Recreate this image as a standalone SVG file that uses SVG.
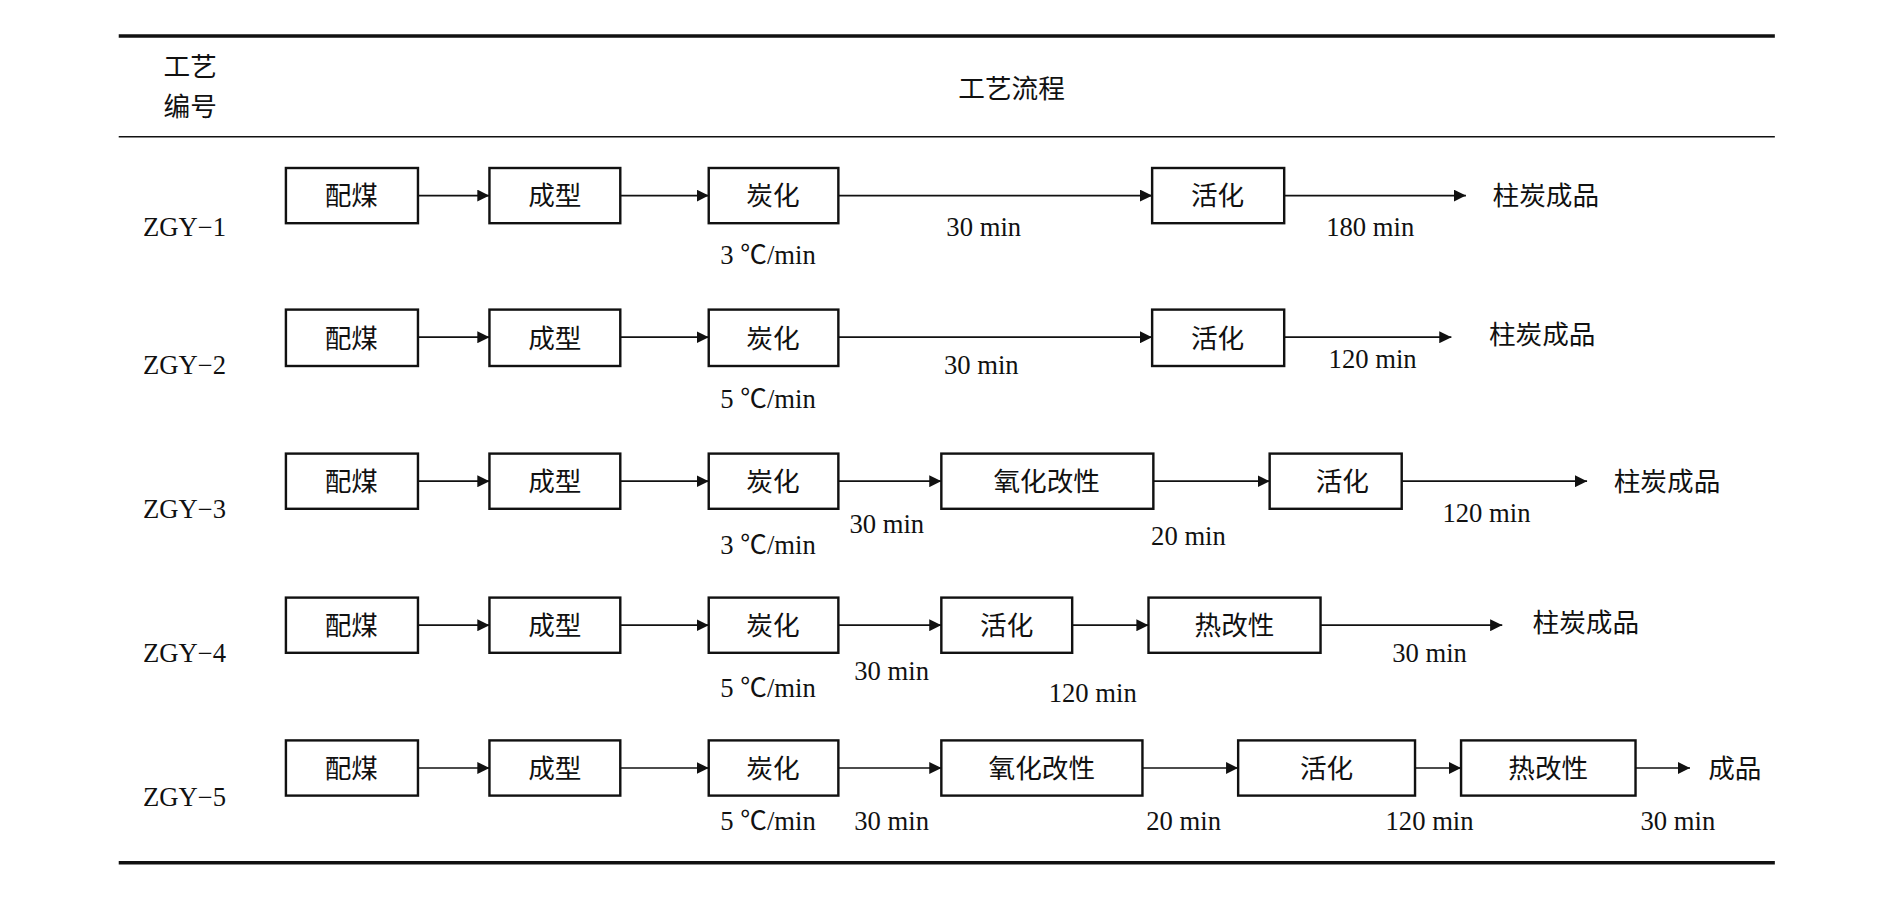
<svg xmlns="http://www.w3.org/2000/svg" width="1890" height="898" viewBox="0 0 1890 898">
<defs>
<marker id="ah" viewBox="0 0 10 10" refX="10" refY="5" markerWidth="10" markerHeight="10" markerUnits="userSpaceOnUse" orient="auto"><path d="M0,0 L10,5 L0,10 z" fill="#111"/></marker>
<style>
text{font-family:"Liberation Serif","Noto Sans CJK SC",serif;fill:#111;font-size:22px}
.b{fill:#fff;stroke:#111;stroke-width:2}
#connectors path{stroke:#111;stroke-width:1.4;fill:none;marker-end:url(#ah)}
.bt text{text-anchor:middle}
</style>
</defs>
<rect width="1890" height="898" fill="#fff"/>
<g transform="scale(1.2115,1.2)">
<g id="table">
<line x1="98" y1="30" x2="1465" y2="30" stroke="#111" stroke-width="3"/>
<line x1="98" y1="114" x2="1465" y2="114" stroke="#111" stroke-width="1.2"/>
<line x1="98" y1="719" x2="1465" y2="719" stroke="#111" stroke-width="3"/>
<text x="135" y="63">工艺</text>
<text x="135" y="97">编号</text>
<text x="835" y="82" text-anchor="middle">工艺流程</text>
</g>
<g id="labels">
<text x="118" y="197">ZGY−1</text>
<text x="118" y="312">ZGY−2</text>
<text x="118" y="432">ZGY−3</text>
<text x="118" y="552">ZGY−4</text>
<text x="118" y="672">ZGY−5</text>
</g>
<g class="bt">
<g id="r1">
<rect class="b" x="236" y="140" width="109" height="46"/><text x="290" y="171">配煤</text>
<rect class="b" x="404" y="140" width="108" height="46"/><text x="458" y="171">成型</text>
<rect class="b" x="585" y="140" width="107" height="46"/><text x="638" y="171">炭化</text>
<rect class="b" x="951" y="140" width="109" height="46"/><text x="1005" y="171">活化</text>
<text x="1276" y="171">柱炭成品</text>
<text x="634" y="220">3 ℃/min</text><text x="812" y="197">30 min</text><text x="1131" y="197">180 min</text>
</g>
<g id="r2">
<rect class="b" x="236" y="258" width="109" height="47"/><text x="290" y="290">配煤</text>
<rect class="b" x="404" y="258" width="108" height="47"/><text x="458" y="290">成型</text>
<rect class="b" x="585" y="258" width="107" height="47"/><text x="638" y="290">炭化</text>
<rect class="b" x="951" y="258" width="109" height="47"/><text x="1005" y="290">活化</text>
<text x="1273" y="287">柱炭成品</text>
<text x="634" y="340">5 ℃/min</text><text x="810" y="312">30 min</text><text x="1133" y="307">120 min</text>
</g>
<g id="r3">
<rect class="b" x="236" y="378" width="109" height="46"/><text x="290" y="409">配煤</text>
<rect class="b" x="404" y="378" width="108" height="46"/><text x="458" y="409">成型</text>
<rect class="b" x="585" y="378" width="107" height="46"/><text x="638" y="409">炭化</text>
<rect class="b" x="777" y="378" width="175" height="46"/><text x="864" y="409">氧化改性</text>
<rect class="b" x="1048" y="378" width="109" height="46"/><text x="1108" y="409">活化</text>
<text x="1376" y="409">柱炭成品</text>
<text x="732" y="444">30 min</text><text x="634" y="462">3 ℃/min</text><text x="981" y="454">20 min</text><text x="1227" y="435">120 min</text>
</g>
<g id="r4">
<rect class="b" x="236" y="498" width="109" height="46"/><text x="290" y="529">配煤</text>
<rect class="b" x="404" y="498" width="108" height="46"/><text x="458" y="529">成型</text>
<rect class="b" x="585" y="498" width="107" height="46"/><text x="638" y="529">炭化</text>
<rect class="b" x="777" y="498" width="108" height="46"/><text x="831" y="529">活化</text>
<rect class="b" x="948" y="498" width="142" height="46"/><text x="1019" y="529">热改性</text>
<text x="1309" y="527">柱炭成品</text>
<text x="634" y="581">5 ℃/min</text><text x="736" y="567">30 min</text><text x="902" y="585">120 min</text><text x="1180" y="552">30 min</text>
</g>
<g id="r5">
<rect class="b" x="236" y="617" width="109" height="46"/><text x="290" y="648">配煤</text>
<rect class="b" x="404" y="617" width="108" height="46"/><text x="458" y="648">成型</text>
<rect class="b" x="585" y="617" width="107" height="46"/><text x="638" y="648">炭化</text>
<rect class="b" x="777" y="617" width="166" height="46"/><text x="860" y="648">氧化改性</text>
<rect class="b" x="1022" y="617" width="146" height="46"/><text x="1095" y="648">活化</text>
<rect class="b" x="1206" y="617" width="144" height="46"/><text x="1278" y="648">热改性</text>
<text x="1432" y="648">成品</text>
<text x="634" y="692">5 ℃/min</text><text x="736" y="692">30 min</text><text x="977" y="692">20 min</text><text x="1180" y="692">120 min</text><text x="1385" y="692">30 min</text>
</g>
</g>
<g id="connectors">
<path d="M345,163H404"/><path d="M512,163H585"/><path d="M692,163H951"/><path d="M1060,163H1210"/>
<path d="M345,281H404"/><path d="M512,281H585"/><path d="M692,281H951"/><path d="M1060,281H1198"/>
<path d="M345,401H404"/><path d="M512,401H585"/><path d="M692,401H777"/><path d="M952,401H1048"/><path d="M1157,401H1310"/>
<path d="M345,521H404"/><path d="M512,521H585"/><path d="M692,521H777"/><path d="M885,521H948"/><path d="M1090,521H1240"/>
<path d="M345,640H404"/><path d="M512,640H585"/><path d="M692,640H777"/><path d="M943,640H1022"/><path d="M1168,640H1206"/><path d="M1350,640H1395"/>
</g>
</g>
</svg>
